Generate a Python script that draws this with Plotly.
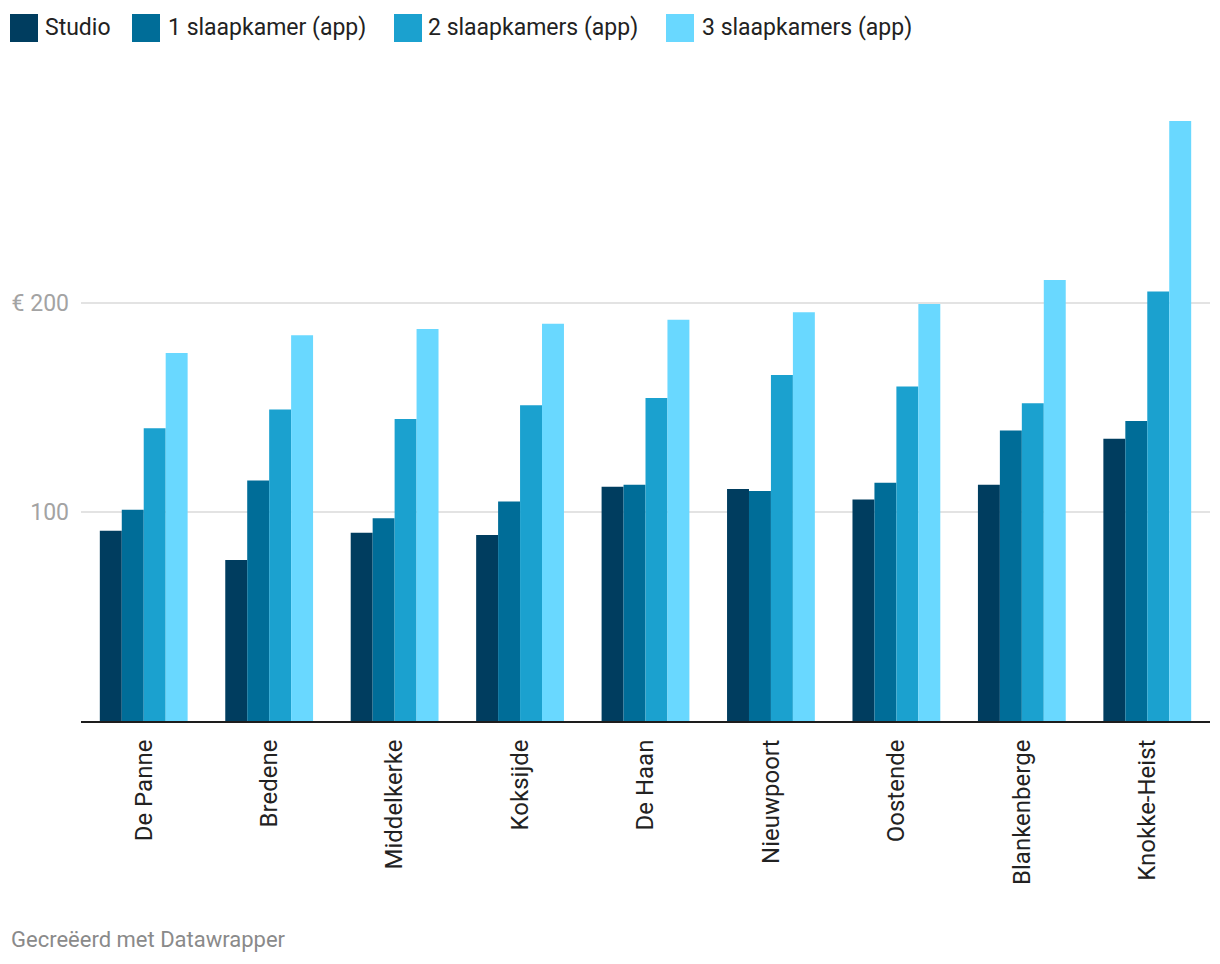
import plotly.graph_objects as go

categories = ["De Panne", "Bredene", "Middelkerke", "Koksijde", "De Haan",
              "Nieuwpoort", "Oostende", "Blankenberge", "Knokke-Heist"]
studio = [91, 77, 90, 89, 112, 111, 106, 113, 135]
een_slaapkamer = [101, 115, 97, 105, 113, 110, 114, 139, 143.5]
twee_slaapkamers = [140, 149, 144.5, 151, 154.5, 165.5, 160, 152, 205.5]
drie_slaapkamers = [176, 184.5, 187.5, 190, 192, 195.5, 199.5, 211, 287]
series_names = ["Studio", "1 slaapkamer (app)", "2 slaapkamers (app)", "3 slaapkamers (app)"]
colors = ["#003d5f", "#006d98", "#1ba1cf", "#69d8ff"]
y_tickvals = [100, 200]
y_ticktext = ["100", "€ 200"]
footer = "Gecreëerd met Datawrapper"

# page offset (body margin)
OFF = 8
W, H = 1220, 964
ML, MT = 81 - OFF, 97 - OFF
PLOT_RIGHT, PLOT_BOTTOM = 1210 - OFF, 721 - OFF
MR = W - PLOT_RIGHT
MB = H - PLOT_BOTTOM
PW = W - ML - MR
PH = H - MT - MB

def px_x(px):
    return (px - OFF - ML) / PW

def px_y(py):
    return (PLOT_BOTTOM - (py - OFF)) / PH

fig = go.Figure()
for name, vals, col in zip(series_names,
                           [studio, een_slaapkamer, twee_slaapkamers, drie_slaapkamers],
                           colors):
    fig.add_trace(go.Bar(x=categories, y=vals, name=name, marker=dict(color=col, line=dict(width=0)),
                         showlegend=False))

fig.update_layout(
    width=W, height=H,
    margin=dict(l=ML, r=MR, t=MT, b=MB, autoexpand=False),
    paper_bgcolor="white", plot_bgcolor="white",
    barmode="group", bargap=0.3, bargroupgap=0,
    font=dict(family="Roboto", color="#222222"),
    xaxis=dict(tickangle=-90, tickfont=dict(size=24, color="#222222"),
               showline=True, linecolor="#1d1d1d", linewidth=2, automargin=False,
               ticks="", showgrid=False, ticklabelstandoff=7),
    yaxis=dict(range=[0, 298.5], tickvals=y_tickvals, ticktext=y_ticktext,
               tickfont=dict(size=23, color="#a3a3a3"), automargin=False,
               showgrid=True, gridcolor="#e3e3e3", gridwidth=2,
               zeroline=False, ticks="", ticklabelstandoff=11),
)

# custom legend
sq_x = [10, 132, 394, 666]
txt_x = [43, 166, 426, 700]
for name, col, sx, tx in zip(series_names, colors, sq_x, txt_x):
    fig.add_shape(type="rect", xref="paper", yref="paper",
                  x0=px_x(sx), x1=px_x(sx + 28), y0=px_y(42), y1=px_y(14),
                  fillcolor=col, line=dict(width=0))
    fig.add_annotation(text=name, xref="paper", yref="paper", x=px_x(tx), y=px_y(28),
                       xanchor="left", yanchor="middle", showarrow=False,
                       font=dict(size=23, color="#222222", family="Roboto"))

fig.add_annotation(text=footer, xref="paper", yref="paper", x=px_x(9), y=px_y(940),
                   xanchor="left", yanchor="middle", showarrow=False,
                   font=dict(size=22, color="#8a8a8a", family="Roboto"))

fig.write_html("out.html")
